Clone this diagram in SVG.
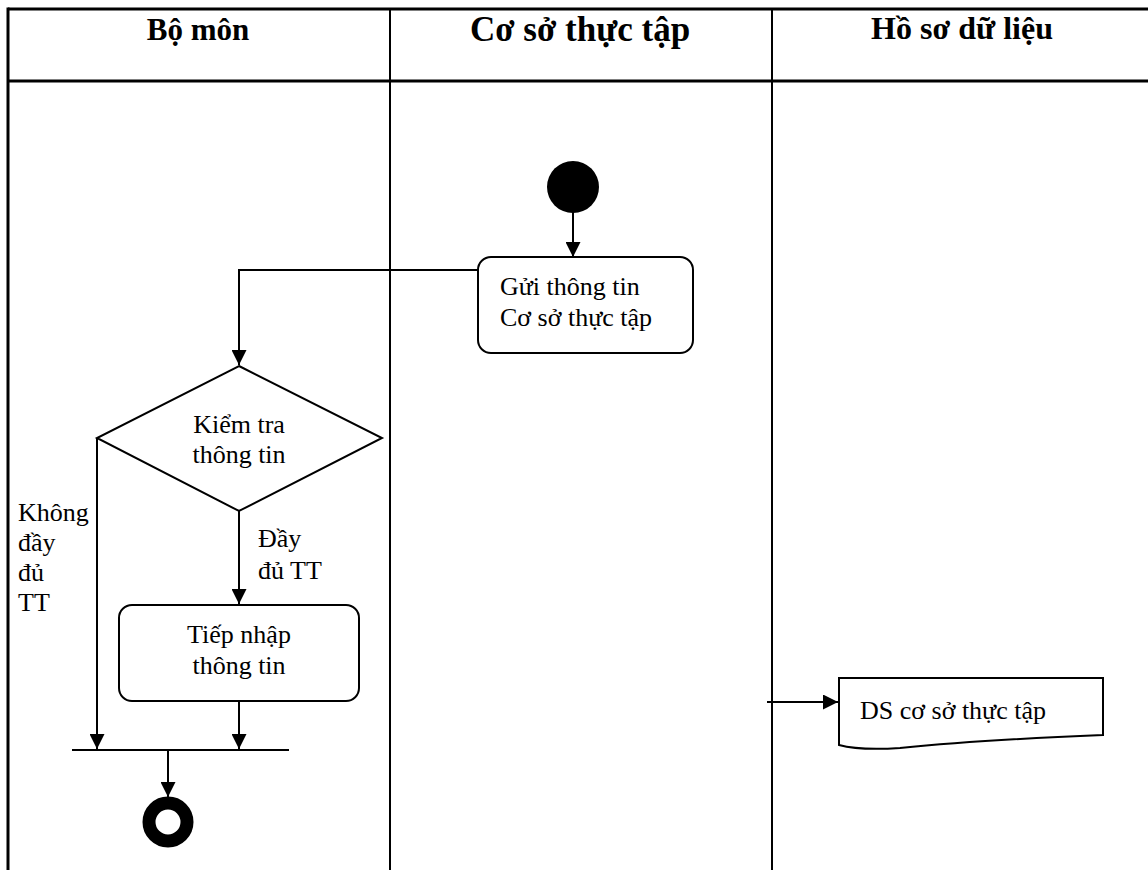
<svg xmlns="http://www.w3.org/2000/svg" width="1148" height="870" viewBox="0 0 1148 870">
<style>
.lane{stroke:#000;stroke-width:3;fill:none}
.ln{stroke:#000;stroke-width:2;fill:none}
.shape{stroke:#000;stroke-width:2;fill:#fff}
.hd{font-family:"Liberation Serif",serif;font-weight:bold;fill:#000;text-anchor:middle}
.t{font-family:"Liberation Serif",serif;font-size:26px;fill:#000}
.c{text-anchor:middle}
</style>
<defs>
<marker id="ah" viewBox="0 0 10 10" refX="10" refY="5" markerWidth="15" markerHeight="15" markerUnits="userSpaceOnUse" orient="auto">
<path d="M0,0 L10,5 L0,10 Z" fill="#000"/>
</marker>
</defs>
<rect width="1148" height="870" fill="#fff"/>
<g id="lanes">
<line class="lane" x1="8" y1="9" x2="1148" y2="9"/>
<line class="lane" x1="8" y1="81" x2="1148" y2="81"/>
<line class="lane" x1="8" y1="7.5" x2="8" y2="870"/>
<line class="ln" x1="390" y1="9" x2="390" y2="870"/>
<line class="ln" x1="772" y1="9" x2="772" y2="870"/>
<text class="hd" x="198" y="40" font-size="31">Bộ môn</text>
<text class="hd" x="580" y="41" font-size="35">Cơ sở thực tập</text>
<text class="hd" x="962" y="39" font-size="32">Hồ sơ dữ liệu</text>
</g>
<g id="connectors">
<line class="ln" x1="573" y1="212" x2="573" y2="257" marker-end="url(#ah)"/>
<polyline class="ln" points="478,270 239,270 239,365" marker-end="url(#ah)"/>
<line class="ln" x1="239" y1="511" x2="239" y2="604" marker-end="url(#ah)"/>
<line class="ln" x1="97" y1="438" x2="97" y2="749" marker-end="url(#ah)"/>
<line class="ln" x1="239" y1="701" x2="239" y2="749" marker-end="url(#ah)"/>
<line class="ln" x1="168" y1="750" x2="168" y2="797" marker-end="url(#ah)"/>
<line class="ln" x1="767" y1="702" x2="838" y2="702" marker-end="url(#ah)"/>
<text class="t" x="18" y="521">Không</text>
<text class="t" x="18" y="551">đầy</text>
<text class="t" x="18" y="581">đủ</text>
<text class="t" x="18" y="611">TT</text>
<text class="t" x="258" y="547" font-size="32">Đầy</text>
<text class="t" x="258" y="579" font-size="32">đủ TT</text>
</g>
<g id="start">
<circle cx="573" cy="187" r="26" fill="#000"/>
</g>
<g id="send">
<rect class="shape" x="478" y="257" width="215" height="96" rx="13"/>
<text class="t" x="500" y="295">Gửi thông tin</text>
<text class="t" x="500" y="326">Cơ sở thực tập</text>
</g>
<g id="check">
<polygon class="shape" points="239,366 382,438 239,511 97,438"/>
<text class="t c" x="239" y="433">Kiểm tra</text>
<text class="t c" x="239" y="463">thông tin</text>
</g>
<g id="receive">
<rect class="shape" x="119" y="605" width="240" height="96" rx="13"/>
<text class="t c" x="239" y="643">Tiếp nhập</text>
<text class="t c" x="239" y="674">thông tin</text>
</g>
<g id="join">
<line class="ln" x1="72" y1="750" x2="289" y2="750"/>
</g>
<g id="end">
<circle cx="168" cy="822" r="19" fill="none" stroke="#000" stroke-width="13"/>
</g>
<g id="ds">
<path class="shape" d="M839,678 L1103,678 L1103,735 C1030,738 960,742 900,748 C870,750 850,748 839,745 Z"/>
<text class="t" x="860" y="719" font-size="25">DS cơ sở thực tập</text>
</g>
</svg>
